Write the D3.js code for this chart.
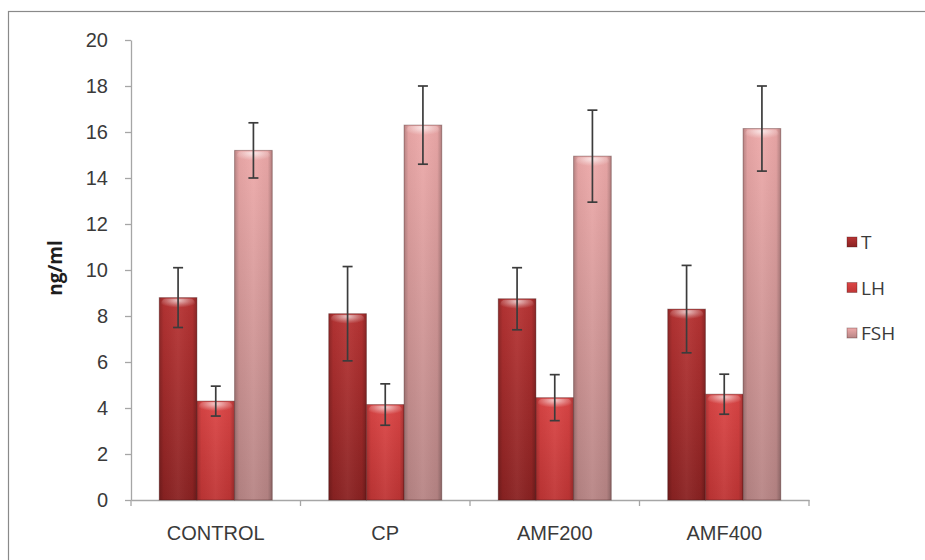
<!DOCTYPE html>
<html>
<head>
<meta charset="utf-8">
<script src="https://cdn.jsdelivr.net/npm/d3@7"></script>
<style>
  body { margin: 0; background: #fff; }
  svg { display: block; font-family: "Open Sans", "Liberation Sans", sans-serif; }
</style>
</head>
<body>
<svg id="chart" width="925" height="560"></svg>
<script>
// data
var groups = ["CONTROL", "CP", "AMF200", "AMF400"];
var seriesNames = ["T", "LH", "FSH"];
var tValues = [8.8, 8.1, 8.75, 8.3];
var lhValues = [4.3, 4.15, 4.45, 4.6];
var fshValues = [15.2, 16.3, 14.95, 16.15];
var tErr = [1.3, 2.05, 1.35, 1.9];
var lhErr = [0.65, 0.9, 1.0, 0.87];
var fshErr = [1.2, 1.7, 2.0, 1.85];
var yTicks = [0, 2, 4, 6, 8, 10, 12, 14, 16, 18, 20];

var seriesValues = [tValues, lhValues, fshValues];
var seriesErr = [tErr, lhErr, fshErr];
var colors = [
  { top: "#b83434", bottom: "#8a2222" },
  { top: "#dc4646", bottom: "#bf3535" },
  { top: "#eeaaaa", bottom: "#b78585" }
];

var svg = d3.select("#chart");

// outer frame
svg.append("rect")
  .attr("x", 8.5).attr("y", 11.5)
  .attr("width", 1000).attr("height", 1000)
  .attr("fill", "none").attr("stroke", "#8a8a8a").attr("stroke-width", 1.2);

var plotLeft = 131, plotRight = 809, plotTop = 40, plotBottom = 500;

var x0 = d3.scaleBand().domain(groups).range([plotLeft, plotRight]).paddingInner(0).paddingOuter(0);
var x1 = d3.scaleBand().domain(seriesNames).range([0, x0.bandwidth()]).paddingOuter(0.75).paddingInner(0);
var y = d3.scaleLinear().domain([0, 20]).range([plotBottom, plotTop]);

// gradients
var defs = svg.append("defs");
colors.forEach(function (c, i) {
  var g = defs.append("linearGradient").attr("id", "vg" + i)
    .attr("x1", 0).attr("y1", 0).attr("x2", 0).attr("y2", 1);
  g.append("stop").attr("offset", "0%").attr("stop-color", c.top);
  g.append("stop").attr("offset", "100%").attr("stop-color", c.bottom);
});
var hg = defs.append("linearGradient").attr("id", "hshade")
  .attr("x1", 0).attr("y1", 0).attr("x2", 1).attr("y2", 0);
hg.append("stop").attr("offset", "0%").attr("stop-color", "#000").attr("stop-opacity", 0.22);
hg.append("stop").attr("offset", "12%").attr("stop-color", "#000").attr("stop-opacity", 0.04);
hg.append("stop").attr("offset", "50%").attr("stop-color", "#fff").attr("stop-opacity", 0.05);
hg.append("stop").attr("offset", "88%").attr("stop-color", "#000").attr("stop-opacity", 0.04);
hg.append("stop").attr("offset", "100%").attr("stop-color", "#000").attr("stop-opacity", 0.25);
var tg = defs.append("radialGradient").attr("id", "topHi")
  .attr("cx", 0.5).attr("cy", 0.15).attr("r", 0.6);
tg.append("stop").attr("offset", "0%").attr("stop-color", "#fff").attr("stop-opacity", 0.7);
tg.append("stop").attr("offset", "60%").attr("stop-color", "#fff").attr("stop-opacity", 0.25);
tg.append("stop").attr("offset", "100%").attr("stop-color", "#fff").attr("stop-opacity", 0);

// y axis
var yAxis = svg.append("g")
  .attr("transform", "translate(" + plotLeft + ",0)")
  .call(d3.axisLeft(y).tickValues(yTicks).tickSize(6).tickPadding(17).tickSizeOuter(0));
yAxis.select(".domain").attr("stroke", "#a6a6a6").attr("stroke-width", 1.3);
yAxis.selectAll(".tick line").attr("stroke", "#a6a6a6").attr("stroke-width", 1.3);
yAxis.selectAll(".tick text").attr("fill", "#3a3a3a").style("font-size", "20px");

// x axis
var xAxis = svg.append("g")
  .attr("transform", "translate(0," + plotBottom + ")")
  .call(d3.axisBottom(x0).tickSize(0).tickPadding(26));
xAxis.select(".domain").attr("stroke", "#a6a6a6").attr("stroke-width", 1.3);
xAxis.selectAll(".tick text").attr("fill", "#3a3a3a").style("font-size", "20px");
// category separators
var seps = d3.range(groups.length + 1).map(function (i) { return plotLeft + i * x0.bandwidth(); });
svg.append("g").selectAll("line").data(seps).enter().append("line")
  .attr("x1", function (d) { return d; }).attr("x2", function (d) { return d; })
  .attr("y1", plotBottom).attr("y2", plotBottom + 6)
  .attr("stroke", "#a6a6a6").attr("stroke-width", 1.3);

// bars
var barData = [];
groups.forEach(function (g, gi) {
  seriesNames.forEach(function (s, si) {
    barData.push({ group: g, series: s, si: si, value: seriesValues[si][gi], err: seriesErr[si][gi] });
  });
});

var bars = svg.append("g").selectAll("g").data(barData).enter().append("g")
  .attr("transform", function (d) { return "translate(" + (x0(d.group) + x1(d.series)) + ",0)"; });
var bw = x1.bandwidth();
bars.append("rect")
  .attr("y", function (d) { return y(d.value); })
  .attr("width", bw).attr("height", function (d) { return plotBottom - y(d.value); })
  .attr("fill", function (d) { return "url(#vg" + d.si + ")"; });
bars.append("rect")
  .attr("y", function (d) { return y(d.value); })
  .attr("width", bw).attr("height", function (d) { return plotBottom - y(d.value); })
  .attr("fill", "url(#hshade)");
bars.append("rect")
  .attr("x", 2).attr("y", function (d) { return y(d.value) + 1; })
  .attr("width", bw - 4).attr("height", 12)
  .attr("rx", 5)
  .attr("fill", "url(#topHi)");
bars.append("rect")
  .attr("y", function (d) { return y(d.value); })
  .attr("width", bw).attr("height", function (d) { return plotBottom - y(d.value); })
  .attr("fill", "none").attr("stroke", "rgba(60,20,20,0.35)").attr("stroke-width", 1);

// error bars
var eb = bars.append("g").attr("stroke", "#3c3c3c").attr("stroke-width", 1.7);
eb.append("line")
  .attr("x1", bw / 2).attr("x2", bw / 2)
  .attr("y1", function (d) { return y(d.value + d.err); })
  .attr("y2", function (d) { return y(d.value - d.err); });
eb.append("line")
  .attr("x1", bw / 2 - 5).attr("x2", bw / 2 + 5)
  .attr("y1", function (d) { return y(d.value + d.err); })
  .attr("y2", function (d) { return y(d.value + d.err); });
eb.append("line")
  .attr("x1", bw / 2 - 5).attr("x2", bw / 2 + 5)
  .attr("y1", function (d) { return y(d.value - d.err); })
  .attr("y2", function (d) { return y(d.value - d.err); });

// y label
svg.append("text")
  .attr("transform", "translate(62,268) rotate(-90)")
  .attr("text-anchor", "middle")
  .attr("fill", "#1e1e1e")
  .style("font-size", "19px").style("font-weight", "bold")
  .text("ng/ml");

// legend
var legend = svg.append("g").selectAll("g").data(seriesNames).enter().append("g")
  .attr("transform", function (d, i) { return "translate(847," + (242 + i * 45.5) + ")"; });
legend.append("rect")
  .attr("x", 0).attr("y", -5).attr("width", 10).attr("height", 10)
  .attr("fill", function (d, i) { return "url(#vg" + i + ")"; })
  .attr("stroke", "rgba(60,20,20,0.4)").attr("stroke-width", 0.8);
legend.append("text")
  .attr("x", 14).attr("y", 7)
  .attr("fill", "#3a3a3a").style("font-size", "19px")
  .text(function (d) { return d; });
</script>
</body>
</html>
